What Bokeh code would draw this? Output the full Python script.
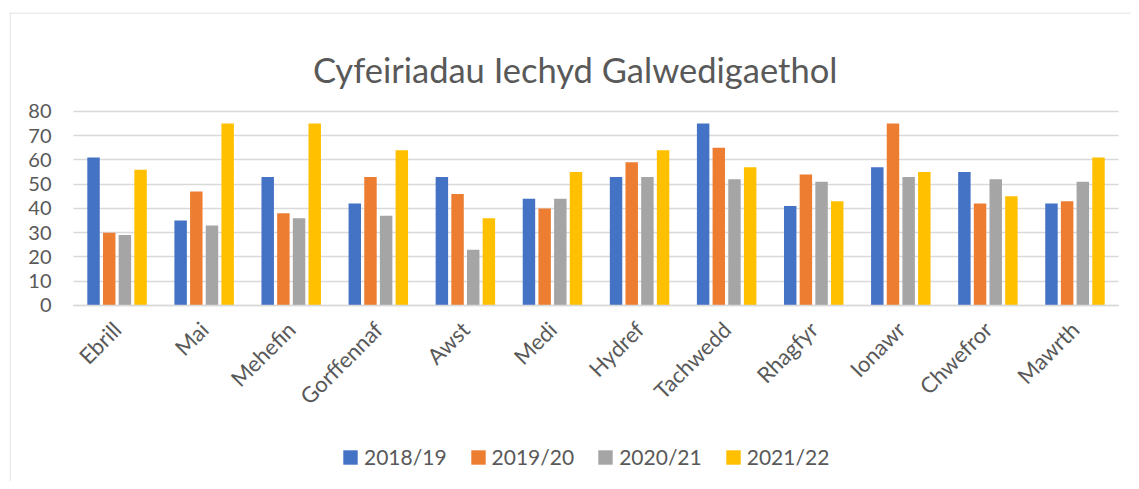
import math
from bokeh.plotting import figure
from bokeh.models import (ColumnDataSource, Range1d, FixedTicker, Legend, LegendItem,
                          Label, Span)
from bokeh.transform import dodge
from bokeh.embed import file_html
from bokeh.resources import INLINE

months = ["Ebrill", "Mai", "Mehefin", "Gorffennaf", "Awst", "Medi", "Hydref",
          "Tachwedd", "Rhagfyr", "Ionawr", "Chwefror", "Mawrth"]
series_names = ["2018/19", "2019/20", "2020/21", "2021/22"]
v2018 = [61, 35, 53, 42, 53, 44, 53, 75, 41, 57, 55, 42]
v2019 = [30, 47, 38, 53, 46, 40, 59, 65, 54, 75, 42, 43]
v2020 = [29, 33, 36, 37, 23, 44, 53, 52, 51, 53, 52, 51]
v2021 = [56, 75, 75, 64, 36, 55, 64, 57, 43, 55, 45, 61]
y_ticks = [0, 10, 20, 30, 40, 50, 60, 70, 80]
chart_title = "Cyfeiriadau Iechyd Galwedigaethol"

colors = ["#4472C4", "#ED7D31", "#A5A5A5", "#FFC000"]
offsets = [-0.27, -0.09, 0.09, 0.27]
FONT = "Lato"
TXT = "#595959"
GRID = "#d9d9d9"

# category centres on a numeric axis (one unit per month)
x_pos = [i + 0.5 for i in range(len(months))]
n = len(months)

source = ColumnDataSource(dict(x=x_pos, month=months, s0=v2018, s1=v2019, s2=v2020, s3=v2021))

# frame covers the whole chart area; ranges place the plot region inside it
p = figure(x_range=Range1d(-0.735, n + 0.149), y_range=Range1d(-72.6, 120.8),
           width=1131, height=481, output_backend="svg", toolbar_location=None,
           min_border_left=9, min_border_right=0, min_border_top=12, min_border_bottom=0)
p.outline_line_color = None
p.background_fill_color = "white"
p.border_fill_color = "white"
p.xgrid.visible = False
p.ygrid.visible = False

renderers = []
for i, name in enumerate(series_names):
    r = p.vbar(x=dodge("x", offsets[i]), top="s%d" % i, width=0.143,
               source=source, fill_color=colors[i], line_color=None)
    renderers.append(r)

# y axis: fixed at the left edge of the categories, inward ticks act as gridlines
p.yaxis.fixed_location = 0
p.yaxis.ticker = FixedTicker(ticks=y_ticks)
p.yaxis.axis_line_color = None
p.yaxis.major_tick_line_color = GRID
p.yaxis.major_tick_line_width = 1.3
p.yaxis.major_tick_in = 1045
p.yaxis.major_tick_out = 0
p.yaxis.minor_tick_line_color = None
p.yaxis.major_label_text_font = FONT
p.yaxis.major_label_text_font_size = "20px"
p.yaxis.major_label_text_color = TXT
p.yaxis.major_label_standoff = 22
p.yaxis.level = "underlay"

# x axis: fixed at y = 0
p.xaxis.fixed_location = 0
p.xaxis.bounds = (0, n)
p.xaxis.ticker = FixedTicker(ticks=x_pos)
p.xaxis.major_label_overrides = {x: m for x, m in zip(x_pos, months)}
p.xaxis.axis_line_color = GRID
p.xaxis.axis_line_width = 1.5
p.xaxis.major_tick_line_color = None
p.xaxis.minor_tick_line_color = None
p.xaxis.major_label_orientation = math.pi / 4
p.xaxis.major_label_text_font = FONT
p.xaxis.major_label_text_font_size = "22px"
p.xaxis.major_label_text_color = TXT
p.xaxis.major_label_standoff = 14

title = Label(x=5.76, y=97.3, text=chart_title, text_align="center", text_baseline="alphabetic",
              text_font=FONT, text_font_size="34.5px", text_color=TXT)
p.add_layout(title)

legend = Legend(items=[LegendItem(label=s, renderers=[r]) for s, r in zip(series_names, renderers)],
                orientation="horizontal", location=(332, 12),
                glyph_width=18, glyph_height=18, label_standoff=5, label_width=81, spacing=22,
                padding=0, margin=0, border_line_color=None, background_fill_alpha=0,
                label_text_font=FONT, label_text_font_size="21px", label_text_color=TXT)
p.add_layout(legend, "center")

# chart-area border (left and top edges)
p.add_layout(Span(location=9.5, location_units="canvas", dimension="height",
                  line_color=GRID, line_width=1))
p.add_layout(Span(location=12.5, location_units="canvas", dimension="width",
                  line_color=GRID, line_width=1))

open("out.html", "w").write(file_html(p, INLINE))
